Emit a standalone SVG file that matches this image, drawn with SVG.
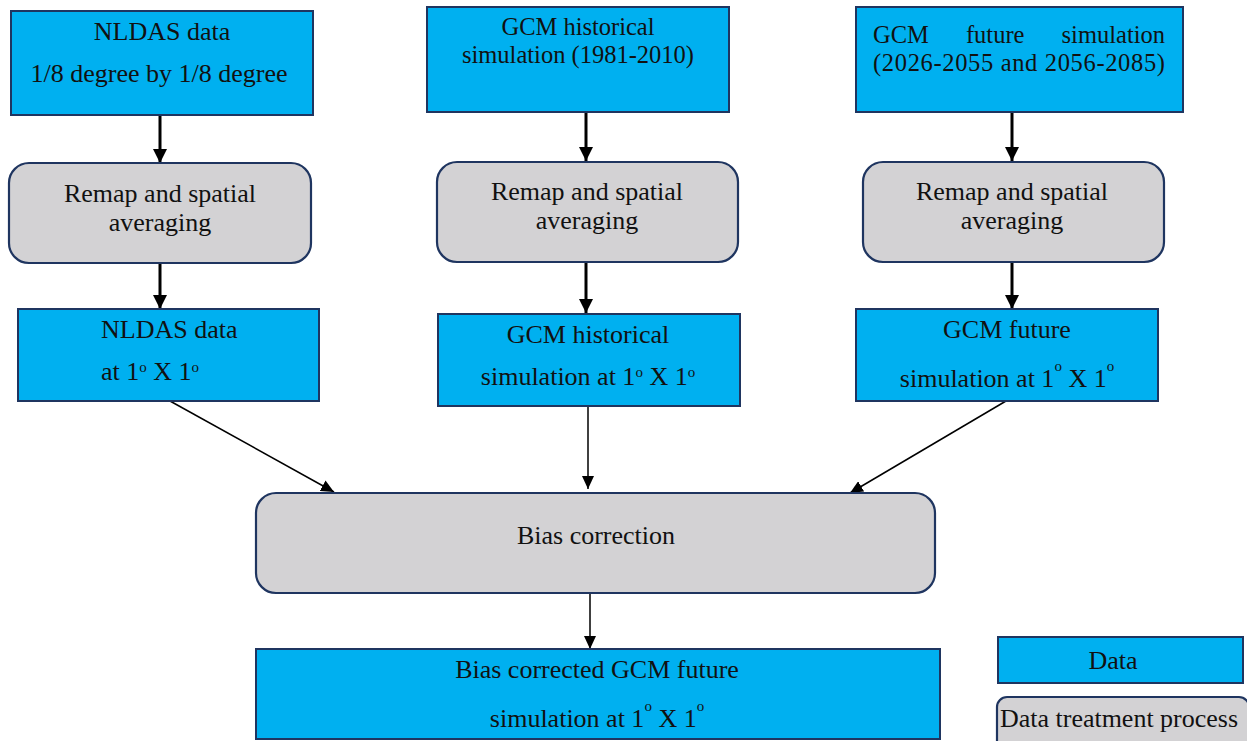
<svg xmlns="http://www.w3.org/2000/svg" width="1247" height="741" viewBox="0 0 1247 741">
  <style>
    .data { fill: #00b0f0; stroke: #1f3560; stroke-width: 2; }
    .proc { fill: #d3d2d4; stroke: #1f3560; stroke-width: 2.2; }
    text { font-family: "Liberation Serif", "Times New Roman", serif; font-size: 26px; fill: #111; }
    .tight { font-size: 24.5px; }
    .c { text-anchor: middle; }
    .sup { font-size: 15px; }
    .thick { stroke: #000; stroke-width: 3; fill: none; }
    .thin { stroke: #000; stroke-width: 1.5; fill: none; }
  </style>
  <defs>
    <marker id="headBig" markerUnits="userSpaceOnUse" viewBox="0 0 14 14" refX="14" refY="7" markerWidth="14" markerHeight="14" orient="auto">
      <path d="M0,0 L14,7 L0,14 Z" fill="#000"/>
    </marker>
    <marker id="headSmall" markerUnits="userSpaceOnUse" viewBox="0 0 13 12" refX="13" refY="6" markerWidth="13" markerHeight="12" orient="auto">
      <path d="M0,0 L13,6 L0,12 Z" fill="#000"/>
    </marker>
  </defs>

  <rect width="1247" height="741" fill="#fff"/>

  <!-- connectors -->
  <g id="connectors">
    <line class="thick" x1="160" y1="115" x2="160" y2="163" marker-end="url(#headBig)"/>
    <line class="thick" x1="160" y1="263" x2="160" y2="309" marker-end="url(#headBig)"/>
    <line class="thick" x1="586" y1="112" x2="586" y2="161" marker-end="url(#headBig)"/>
    <line class="thick" x1="586" y1="262" x2="586" y2="313" marker-end="url(#headBig)"/>
    <line class="thick" x1="1012" y1="112" x2="1012" y2="161" marker-end="url(#headBig)"/>
    <line class="thick" x1="1012" y1="262" x2="1012" y2="309" marker-end="url(#headBig)"/>
    <line class="thin" x1="170" y1="401" x2="334" y2="492" marker-end="url(#headSmall)"/>
    <line class="thin" x1="588" y1="406" x2="588" y2="489" marker-end="url(#headSmall)"/>
    <line class="thin" x1="1006" y1="401" x2="850" y2="493" marker-end="url(#headSmall)"/>
    <line class="thin" x1="590" y1="593" x2="590" y2="649" marker-end="url(#headSmall)"/>
  </g>

  <!-- source data -->
  <g id="nldas-raw">
    <rect class="data" x="11" y="11" width="302" height="104"/>
    <text class="c" x="162" y="40">NLDAS data</text>
    <text class="c" x="159" y="82">1/8 degree by 1/8 degree</text>
  </g>
  <g id="gcm-hist-raw">
    <rect class="data" x="427" y="7" width="302" height="105"/>
    <text class="c tight" x="578" y="35">GCM historical</text>
    <text class="c tight" x="578" y="62.5">simulation (1981-2010)</text>
  </g>
  <g id="gcm-future-raw">
    <rect class="data" x="856" y="7" width="327" height="105"/>
    <!-- first line is justified across the box width by widening the word gaps -->
    <text class="tight" x="873" y="43" word-spacing="31">GCM future simulation</text>
    <text class="tight" x="873" y="70.5" textLength="292" lengthAdjust="spacing">(2026-2055 and 2056-2085)</text>
  </g>

  <!-- regridding -->
  <g id="remap-nldas">
    <rect class="proc" x="9" y="163" width="302" height="100" rx="20"/>
    <text class="c" x="160" y="202">Remap and spatial</text>
    <text class="c" x="160" y="231">averaging</text>
  </g>
  <g id="remap-hist">
    <rect class="proc" x="437" y="162" width="301" height="100" rx="20"/>
    <text class="c" x="587" y="200">Remap and spatial</text>
    <text class="c" x="587" y="229">averaging</text>
  </g>
  <g id="remap-future">
    <rect class="proc" x="863" y="162" width="301" height="100" rx="20"/>
    <text class="c" x="1012" y="200">Remap and spatial</text>
    <text class="c" x="1012" y="229">averaging</text>
  </g>

  <!-- regridded data -->
  <g id="nldas-1deg">
    <rect class="data" x="18" y="309" width="301" height="92"/>
    <text x="101" y="338">NLDAS data</text>
    <text x="101" y="380">at 1<tspan class="sup" dy="-8">o</tspan><tspan dy="8"> X 1</tspan><tspan class="sup" dy="-8">o</tspan></text>
  </g>
  <g id="gcm-hist-1deg">
    <rect class="data" x="438" y="314" width="302" height="92"/>
    <text class="c" x="588" y="343">GCM historical</text>
    <text class="c" x="588" y="385">simulation at 1<tspan class="sup" dy="-8">o</tspan><tspan dy="8"> X 1</tspan><tspan class="sup" dy="-8">o</tspan></text>
  </g>
  <g id="gcm-future-1deg">
    <rect class="data" x="856" y="309" width="302" height="92"/>
    <text class="c" x="1007" y="338">GCM future</text>
    <text class="c" x="1007" y="387">simulation at 1<tspan class="sup" dy="-16">o</tspan><tspan dy="16"> X 1</tspan><tspan class="sup" dy="-16">o</tspan></text>
  </g>

  <!-- correction -->
  <g id="bias-correction">
    <rect class="proc" x="256" y="493" width="679" height="100" rx="20"/>
    <text class="c" x="596" y="544">Bias correction</text>
  </g>
  <g id="bias-corrected-output">
    <rect class="data" x="256" y="649" width="684" height="90"/>
    <text class="c" x="597" y="678">Bias corrected GCM future</text>
    <text class="c" x="597" y="727">simulation at 1<tspan class="sup" dy="-16">o</tspan><tspan dy="16"> X 1</tspan><tspan class="sup" dy="-16">o</tspan></text>
  </g>

  <!-- legend -->
  <g id="legend-data">
    <rect class="data" x="998" y="637" width="245" height="46"/>
    <text class="c" x="1113" y="669">Data</text>
  </g>
  <g id="legend-process">
    <rect class="proc" x="997" y="697" width="252" height="60" rx="10"/>
    <text x="1000" y="727" textLength="238" lengthAdjust="spacingAndGlyphs">Data treatment process</text>
  </g>
</svg>
